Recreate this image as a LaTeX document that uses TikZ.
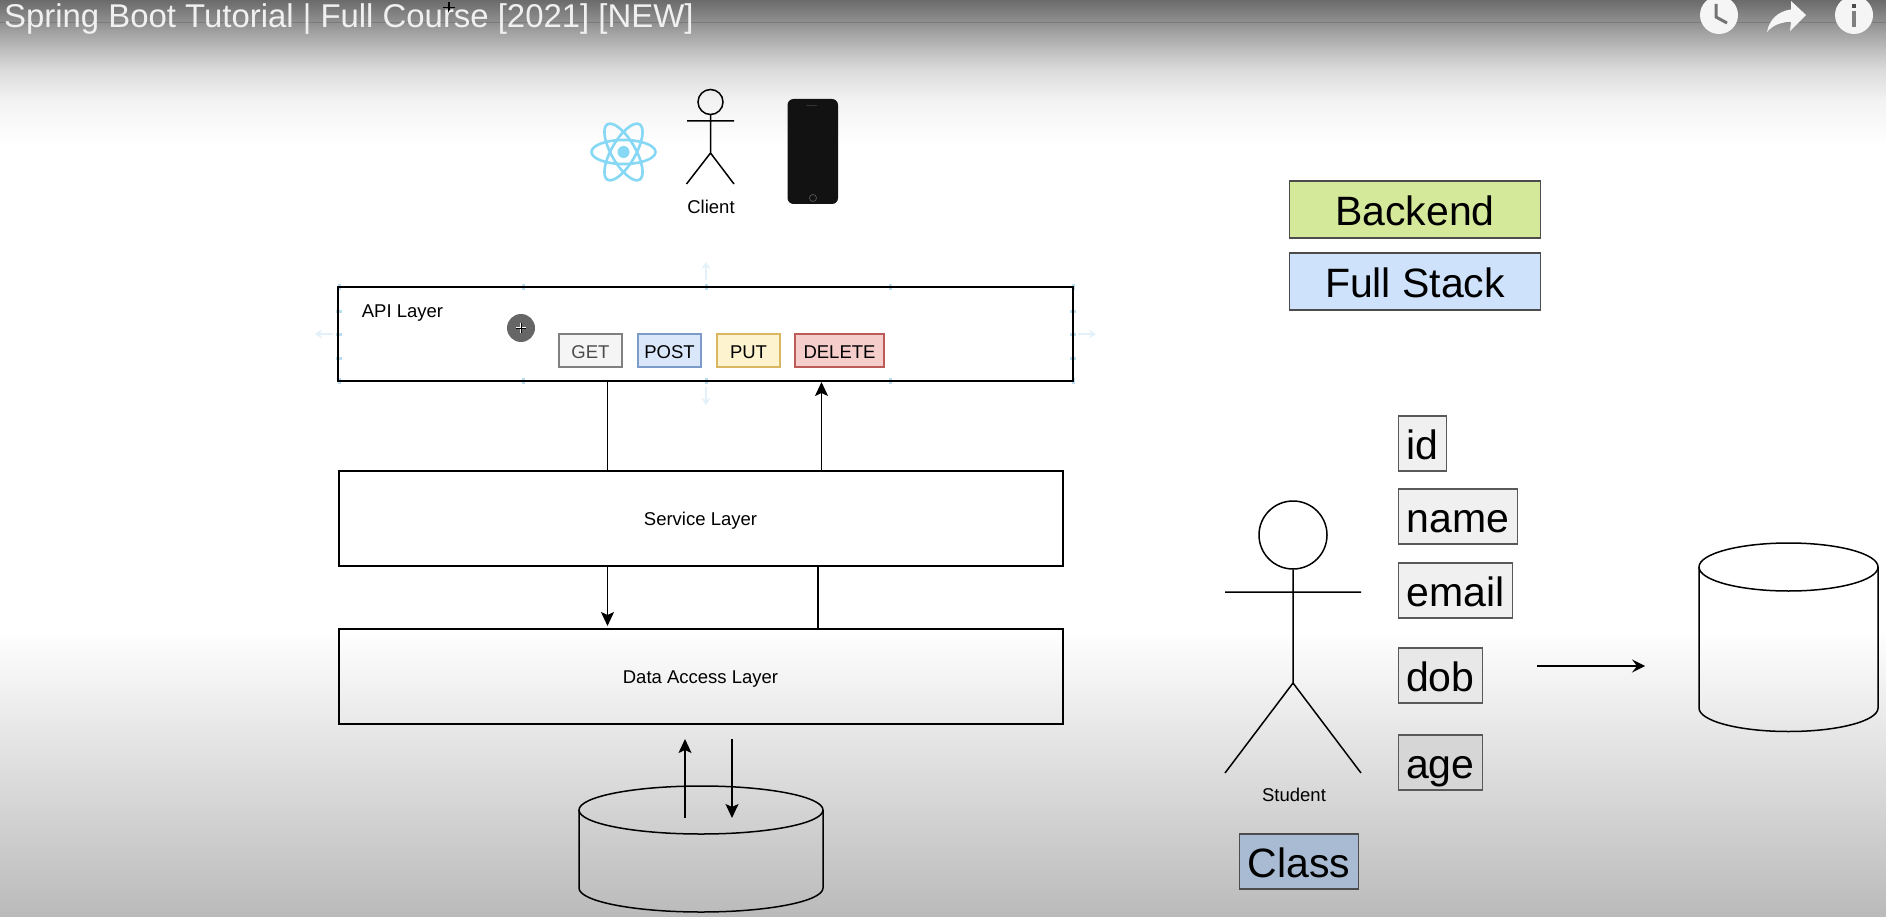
\documentclass[tikz,border=0pt]{standalone}
\usepackage{fontspec}
\setmainfont{Liberation Sans}
\usetikzlibrary{arrows.meta}
\definecolor{reactc}{HTML}{86D8F5}
\definecolor{handlec}{HTML}{BBDDEE}
\definecolor{palec}{HTML}{E2F1FA}
\definecolor{postf}{HTML}{DAE6FA}
\definecolor{postd}{HTML}{7C9BC9}
\definecolor{putf}{HTML}{FDF3CF}
\definecolor{putd}{HTML}{D9B65F}
\definecolor{delf}{HTML}{F5CECC}
\definecolor{deld}{HTML}{BC5B58}
\definecolor{backf}{HTML}{D5E99A}
\definecolor{fullf}{HTML}{CFE2FB}
\definecolor{classf}{HTML}{A9BBD2}
\tikzset{
  x=1pt,y=-1pt,
  layer/.style={draw=black,line width=2pt,rectangle,inner sep=0pt,text height=15.5pt,text depth=0pt,font=\fontsize{18.5}{20}\selectfont},
  btn/.style={rectangle,inner sep=0pt,minimum height=33pt,line width=1.5pt,text height=15.5pt,text depth=0pt,font=\fontsize{18.5}{20}\selectfont},
  big/.style={rectangle,inner sep=0pt,minimum height=55pt,line width=1.6pt,draw=black!65,text height=31.5pt,text depth=0pt,font=\fontsize{41}{44}\selectfont},
  lbl/.style={inner sep=0pt,text height=13.5pt,text depth=0pt,font=\fontsize{18.5}{20}\selectfont},
  figure/.style={line width=1.5pt,draw=black},
  conn/.style={line width=1.5pt,draw=black},
  tip/.style={conn,-{Stealth[length=14pt,width=13pt,inset=3pt]}},
  handle/.style={fill=handlec,draw=none},
  pale/.style={draw=palec,line width=2.5pt,-{Stealth[length=7pt,width=9pt]}},
  icon/.style={fill=black!4,draw=none}
}
\begin{document}
\begin{tikzpicture}
\useasboundingbox (0,0) rectangle (1886,917);
% backdrop
\fill[white] (0,0) rectangle (1886,917);
\shade[top color=black!58,bottom color=black!38,draw=none] (0,0) rectangle (1886,30.5);
\shade[top color=black!38,bottom color=black!25,draw=none] (0,30) rectangle (1886,50.5);
\shade[top color=black!25,bottom color=black!14,draw=none] (0,50) rectangle (1886,70.5);
\shade[top color=black!14,bottom color=black!5,draw=none] (0,70) rectangle (1886,100.5);
\shade[top color=black!5,bottom color=white,draw=none] (0,100) rectangle (1886,145);
\shade[top color=white,bottom color=black!27,draw=none] (0,630) rectangle (1886,917);
\draw[black!52,line width=1pt] (0,22.5) -- (1886,22.5);
% title
\draw[black,line width=1.5pt] (449,2) -- (449,13) (443,7.5) -- (455,7.5);
\node[inner sep=0pt,anchor=base west,text=black!6,font=\fontsize{32.9}{34}\selectfont] (title) at (4,28) {Spring Boot Tutorial | Full Course [2021] [NEW]};
% top right icons
\fill[icon] (1719,15) circle (19);
\draw[black!55,line width=3pt] (1716,4) -- (1716,17) -- (1727,23);
\fill[icon] (1806,15) -- (1791,1) -- (1791,9.5) .. controls (1778,11) and (1769,20) .. (1767,32) .. controls (1773,25) and (1781,22) .. (1791,22) -- (1790,31) -- cycle;
\fill[icon] (1854,15) circle (19);
\fill[black!70] (1852,4) rectangle (1856,8);
\fill[black!50] (1852,11) rectangle (1856,27);
% client group
\begin{scope}[line width=2.6pt]
  \draw[reactc] (623.5,152) ellipse [x radius=32,y radius=12];
  \draw[reactc,rotate around={60:(623.5,152)}] (623.5,152) ellipse [x radius=32,y radius=12];
  \draw[reactc,rotate around={120:(623.5,152)}] (623.5,152) ellipse [x radius=32,y radius=12];
\end{scope}
\fill[reactc] (623.5,152) circle (6);
\node[figure,circle,minimum size=25pt,inner sep=0pt] (chead) at (710.5,102) {};
\coordinate (chip) at (710.5,153);
\draw[figure] (chead.south) -- (chip) (687,121) -- (734,121) (686.5,184) -- (chip) -- (734,184);
\node[lbl] (client) at (711,207) {Client};
\fill[black!93,rounded corners=6pt] (787.5,99) rectangle (838,204);
\draw[black!80,line width=0.7pt] (806,105.5) -- (817,105.5);
\draw[black!65,line width=0.7pt] (813,198) circle (3.5);
% selection handles
\foreach \hx in {339,523,706,890,1073} {
  \fill[handle] (\hx-1.5,284) rectangle (\hx+1.5,290);
  \fill[handle] (\hx-1.5,378) rectangle (\hx+1.5,384);
}
\foreach \hy in {311,334,358} {
  \fill[handle] (336,\hy-1.5) rectangle (342,\hy+1.5);
  \fill[handle] (1070,\hy-1.5) rectangle (1076,\hy+1.5);
}
% API layer
\node[layer,minimum width=735pt,minimum height=94pt] (api) at (705.5,334) {};
\node[lbl] (apilabel) at (402.5,310.5) {API Layer};
\node[btn,draw=black!50,fill=black!4,text=black!70,minimum width=63pt] (get) at (590.5,350.5) {GET};
\node[btn,draw=postd,fill=postf,minimum width=63pt] (post) at (669.5,350.5) {POST};
\node[btn,draw=putd,fill=putf,minimum width=63pt] (put) at (748.5,350.5) {PUT};
\node[btn,draw=deld,fill=delf,minimum width=89pt] (delete) at (839.5,350.5) {DELETE};
\draw[pale] (706,280) -- (706,262);
\draw[pale] (706,387) -- (706,405);
\draw[pale] (333,334) -- (315,334);
\draw[pale] (1078,334) -- (1096,334);
\node[circle,fill=black!60,minimum size=28pt,inner sep=0pt] (cursor) at (521,328) {};
\draw[white,line width=2.5pt] (516,328) -- (526,328) (521,323) -- (521,333);
\draw[black,line width=0.8pt] (516,328) -- (526,328) (521,323) -- (521,333);
% other layers
\node[layer,minimum width=724pt,minimum height=95pt] (svc) at (700.5,518) {Service Layer};
\node[layer,minimum width=724pt,minimum height=95pt] (dal) at (700.5,676) {Data Access Layer};
% connectors between layers
\coordinate (xa) at (607.5,0);
\coordinate (xb) at (821.5,0);
\coordinate (xc) at (818,0);
\draw[conn] (api.south -| xa) -- (svc.north -| xa);
\draw[tip] (svc.north -| xb) -- (api.south -| xb);
\coordinate (dalabove) at (607.5,626);
\draw[tip] (svc.south -| xa) -- (dalabove);
\draw[conn] (dal.north -| xc) -- (svc.south -| xc);
% bottom database
\coordinate (db1) at (701,810);
\draw[figure] (db1) ellipse [x radius=122,y radius=24];
\draw[figure] (579,810) -- (579,888) arc [start angle=180,end angle=0,x radius=122,y radius=24] -- (823,810);
\coordinate (upfrom) at (685,818);
\coordinate (upto) at (685,739);
\coordinate (downfrom) at (732,739);
\coordinate (downto) at (732,818);
\draw[tip] (upfrom) -- (upto);
\draw[tip] (downfrom) -- (downto);
% legend
\node[big,minimum width=251pt,minimum height=57pt,draw=black!70,fill=backf] (backend) at (1415,209.5) {Backend};
\node[big,minimum width=251pt,minimum height=57pt,draw=black!70,fill=fullf] (fullstack) at (1415,281.5) {Full Stack};
% student
\node[figure,circle,minimum size=68pt,inner sep=0pt] (shead) at (1293,535) {};
\coordinate (ship) at (1293,683);
\draw[figure] (shead.south) -- (ship) (1225,592) -- (1361,592) (1225,773) -- (ship) -- (1361,773);
\node[lbl] (student) at (1294,795) {Student};
\node[big,anchor=north west,minimum width=48pt,fill=black!6] (fid) at (1397.5,415) {id};
\node[big,anchor=north west,minimum width=119pt,fill=black!6] (fname) at (1397.5,488) {name};
\node[big,anchor=north west,minimum width=114pt,fill=black!6] (femail) at (1397.5,562) {email};
\node[big,anchor=north west,minimum width=84pt,fill=black!9] (fdob) at (1397.5,647) {dob};
\node[big,anchor=north west,minimum width=84pt,fill=black!16] (fage) at (1397.5,734) {age};
\node[big,anchor=north west,minimum width=119pt,draw=black!70,fill=classf] (cls) at (1238.5,833) {Class};
% right database
\coordinate (arfrom) at (1537,666);
\coordinate (arto) at (1645,666);
\draw[conn,-{Stealth[length=13pt,width=13pt,inset=5pt]}] (arfrom) -- (arto);
\coordinate (db2) at (1788.5,567);
\draw[figure] (db2) ellipse [x radius=89.5,y radius=24];
\draw[figure] (1699,567) -- (1699,708) arc [start angle=180,end angle=0,x radius=89.5,y radius=23.5] -- (1878,567);
\end{tikzpicture}
\end{document}
